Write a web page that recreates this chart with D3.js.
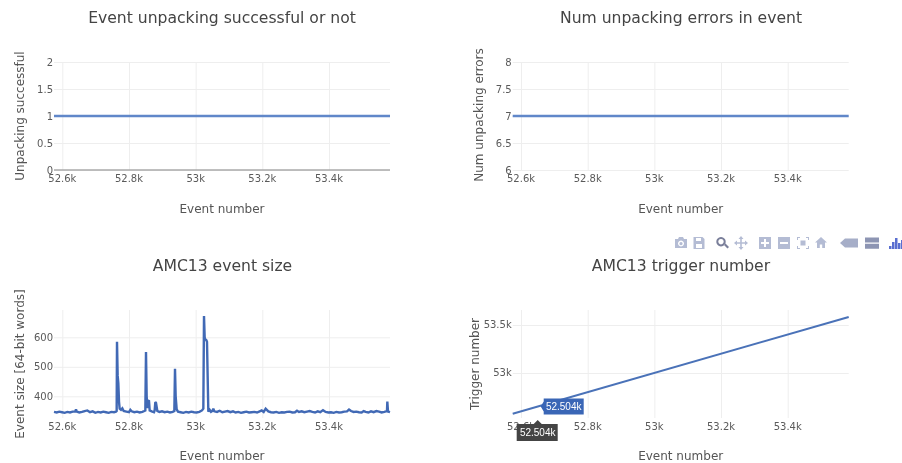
<!DOCTYPE html>
<html>
<head>
<meta charset="utf-8">
<script src="https://cdn.jsdelivr.net/npm/d3@7"></script>
<style>
  html, body { margin: 0; padding: 0; background: #fff; }
  svg { display: block; font-family: "DejaVu Sans", sans-serif; filter: blur(0.35px); }
  .tick-label { font-size: 10px; fill: #5a5a5a; }
  .axis-title { font-size: 12px; fill: #555; }
  .chart-title { font-size: 15.6px; fill: #444; }
  .grid line { stroke: #eee; stroke-width: 1; }
  .grid path { display: none; }
  .trace { fill: none; stroke-linejoin: miter; stroke-miterlimit: 2; }
  .hover-text { font-family: "Liberation Sans", sans-serif; font-size: 10px; fill: #fff; }
</style>
</head>
<body>
<svg id="chart" width="902" height="463"></svg>
<script>
(function() {
  var rangeEvents = [52575, 53583];
  var unpackingOk = [1, 1];
  var unpackingErrors = [7, 7];
  var triggerNumbers = [52575, 53583];

  var xTicks = [52600, 52800, 53000, 53200, 53400];
  var xTickLabels = ['52.6k', '52.8k', '53k', '53.2k', '53.4k'];

  var sizeEvents = [
    52575, 52583, 52591, 52599, 52607, 52615, 52623, 52631, 52639, 52641, 52643, 52651, 52659, 52667, 52675,
    52683, 52691, 52699, 52707, 52715, 52723, 52731, 52739, 52747, 52755, 52761, 52763, 52764, 52766, 52768,
    52770, 52772, 52776, 52780, 52784, 52792, 52800, 52804, 52808, 52816, 52824, 52832, 52840, 52846, 52849,
    52851, 52853, 52855, 52858, 52860, 52862, 52868, 52875, 52877, 52879, 52881, 52885, 52891, 52899, 52907,
    52915, 52923, 52931, 52936, 52938, 52940, 52943, 52947, 52955, 52963, 52971, 52979, 52987, 52995, 53003,
    53011, 53019, 53023, 53025, 53027, 53029, 53030, 53032, 53034, 53038, 53042, 53046, 53050, 53053, 53056,
    53064, 53072, 53080, 53088, 53096, 53104, 53112, 53120, 53128, 53136, 53144, 53152, 53160, 53168, 53176,
    53184, 53192, 53198, 53204, 53210, 53218, 53226, 53234, 53242, 53250, 53258, 53266, 53274, 53282, 53290,
    53298, 53304, 53310, 53318, 53326, 53334, 53342, 53350, 53358, 53366, 53374, 53382, 53390, 53398, 53406,
    53414, 53422, 53430, 53438, 53446, 53454, 53460, 53466, 53474, 53482, 53490, 53498, 53504, 53510, 53518,
    53526, 53534, 53542, 53550, 53558, 53566, 53572, 53574, 53575, 53577, 53583
  ];
  var eventSizes = [
    347, 345, 348, 346, 344, 347, 345, 348, 349, 356, 348, 345, 347, 350, 352,
    346, 349, 344, 347, 345, 348, 346, 344, 347, 346, 348, 350, 585, 470, 445,
    382, 358, 354, 359, 350, 348, 346, 354, 349, 346, 348, 345, 347, 350, 352,
    550, 400, 360, 385, 384, 352, 349, 346, 352, 380, 378, 350, 347, 349, 346,
    348, 345, 347, 350, 493, 400, 356, 348, 346, 344, 347, 345, 348, 346, 345,
    347, 352, 358, 672, 600, 590, 593, 590, 585, 348, 354, 347, 350, 358, 349,
    347, 351, 346, 348, 350, 346, 349, 345, 347, 344, 346, 348, 345, 346, 347,
    345, 349, 352, 347, 358, 349, 346, 345, 347, 344, 346, 345, 347, 348, 345,
    346, 351, 347, 349, 346, 348, 350, 347, 345, 349, 346, 353, 347, 345, 346,
    344, 347, 345, 346, 348, 349, 355, 350, 347, 348, 346, 345, 350, 347, 345,
    349, 346, 350, 348, 345, 347, 349, 352, 382, 348, 346
  ];

  var svg = d3.select('#chart');

  var addPanel = function(opts) {
    var g, x, y, line;
    x = d3.scaleLinear().domain(rangeEvents).range([opts.left, opts.left + 336]);
    y = d3.scaleLinear().domain(opts.yDomain).range([opts.bottom, opts.top]);
    g = svg.append('g');

    // gridlines come from the axes, labels are added by hand because plotly puts them further out
    g.append('g').attr('class', 'grid').attr('transform', 'translate(0,' + opts.bottom + ')')
      .call(d3.axisBottom(x).tickValues(xTicks).tickSize(opts.top - opts.bottom).tickFormat(''));
    g.append('g').attr('class', 'grid').attr('transform', 'translate(' + opts.left + ',0)')
      .call(d3.axisRight(y).tickValues(opts.yTicks).tickSize(336).tickFormat(''));

    if (opts.zeroLine) {
      g.append('line').attr('x1', opts.left).attr('x2', opts.left + 336)
        .attr('y1', y(0)).attr('y2', y(0)).attr('stroke', '#aaa').attr('stroke-width', 1.5);
    }

    line = d3.line().x(function(d) { return x(d[0]); }).y(function(d) { return y(d[1]); });
    g.append('path').attr('class', 'trace').attr('d', line(d3.zip(opts.xs, opts.ys)))
      .attr('stroke', opts.color).attr('stroke-width', opts.lineWidth);

    g.selectAll('.x-label').data(xTicks).enter().append('text').attr('class', 'tick-label')
      .attr('x', function(d) { return x(d); }).attr('y', opts.bottom + opts.xLabelGap)
      .attr('text-anchor', 'middle').text(function(d, i) { return xTickLabels[i]; });
    g.selectAll('.y-label').data(opts.yTicks).enter().append('text').attr('class', 'tick-label')
      .attr('x', opts.left - 1).attr('y', function(d) { return y(d) + 3.5; })
      .attr('text-anchor', 'end').text(function(d, i) { return opts.yLabels[i]; });

    g.append('text').attr('class', 'chart-title').attr('x', opts.titleX).attr('y', opts.titleY)
      .attr('text-anchor', 'middle').text(opts.title);
    g.append('text').attr('class', 'axis-title').attr('x', opts.left + 168).attr('y', opts.xTitleY)
      .attr('text-anchor', 'middle').text('Event number');
    g.append('text').attr('class', 'axis-title').attr('text-anchor', 'middle')
      .attr('transform', 'translate(' + opts.yTitleX + ',' + opts.yTitleY + ') rotate(-90)').text(opts.yTitle);

    return { x: x, y: y };
  };

  addPanel({
    left: 54, top: 62, bottom: 170, xLabelGap: 12, yDomain: [0, 2],
    yTicks: [0, 0.5, 1, 1.5, 2], yLabels: ['0', '0.5', '1', '1.5', '2'], zeroLine: true,
    xs: rangeEvents, ys: unpackingOk, color: '#6087c9', lineWidth: 2.4,
    title: 'Event unpacking successful or not', titleX: 222, titleY: 23, xTitleY: 213,
    yTitle: 'Unpacking successful', yTitleX: 24, yTitleY: 116
  });

  addPanel({
    left: 512.7, top: 62, bottom: 170, xLabelGap: 12, yDomain: [6, 8],
    yTicks: [6, 6.5, 7, 7.5, 8], yLabels: ['6', '6.5', '7', '7.5', '8'],
    xs: rangeEvents, ys: unpackingErrors, color: '#6087c9', lineWidth: 2.4,
    title: 'Num unpacking errors in event', titleX: 681, titleY: 23, xTitleY: 213,
    yTitle: 'Num unpacking errors', yTitleX: 483, yTitleY: 115
  });

  addPanel({
    left: 54, top: 310, bottom: 418, xLabelGap: 12, yDomain: [326.4, 692.5],
    yTicks: [400, 500, 600], yLabels: ['400', '500', '600'],
    xs: sizeEvents, ys: eventSizes, color: '#4169b5', lineWidth: 2.4,
    title: 'AMC13 event size', titleX: 222.5, titleY: 271, xTitleY: 460,
    yTitle: 'Event size [64-bit words]', yTitleX: 24, yTitleY: 364
  });

  var trigger = addPanel({
    left: 512.7, top: 310, bottom: 418, xLabelGap: 12, yDomain: [52531, 53656],
    yTicks: [53000, 53500], yLabels: ['53k', '53.5k'],
    xs: rangeEvents, ys: triggerNumbers, color: '#4a72b8', lineWidth: 2,
    title: 'AMC13 trigger number', titleX: 681, titleY: 271, xTitleY: 460,
    yTitle: 'Trigger number', yTitleX: 479, yTitleY: 364
  });

  // hover labels on the trigger panel
  var hoverEvent = 52650, hoverLabel = '52.504k';
  var hx = trigger.x(hoverEvent), hy = trigger.y(hoverEvent);
  var hover = svg.append('g');
  hover.append('path').attr('fill', '#3a66b6')
    .attr('d', 'M' + (hx + 3) + ',' + hy + 'l3,-5v-3h40v16h-40v-3z');
  hover.append('text').attr('class', 'hover-text').attr('x', hx + 26).attr('y', hy + 3.5)
    .attr('text-anchor', 'middle').text(hoverLabel);
  hover.append('path').attr('fill', '#444')
    .attr('d', 'M' + hx + ',420l4,4h16v17h-41v-17h17z');
  hover.append('text').attr('class', 'hover-text').attr('x', hx).attr('y', 436)
    .attr('text-anchor', 'middle').text(hoverLabel);

  // plotly modebar
  var modeColor = '#b4bcd4', modeDark = '#7a7f9a';
  var bar = svg.append('g').attr('transform', 'translate(0,243)');
  var icon = function(px, d, fill) {
    return bar.append('path').attr('transform', 'translate(' + px + ',0)').attr('d', d).attr('fill', fill || modeColor).attr('fill-rule', 'evenodd');
  };
  icon(681, 'M-6,-4h3l1,-2h4l1,2h3v9h-12zM0,-2.5a3,3 0 1,0 0.01,0zM0,-1a1.6,1.6 0 1,1 -0.01,0z');
  icon(699, 'M-5.5,-6h9l2,2v10h-11zM-3,-5v3h5v-3zM-3,1v4h6v-4z');
  icon(722, 'M-1,-6a4.7,4.7 0 1,0 0.01,0zM-1,-4a2.7,2.7 0 1,1 -0.01,0zM2,2l1.5,-1.5l3.5,3.5l-1.5,1.5z', modeDark);
  icon(741, 'M0,-7l2.5,3h-1.7v3.2h3.2v-1.7l3,2.5l-3,2.5v-1.7h-3.2v3.2h1.7l-2.5,3l-2.5,-3h1.7v-3.2h-3.2v1.7l-3,-2.5l3,-2.5v1.7h3.2v-3.2h-1.7z');
  icon(765, 'M-6,-6h12v12h-12zM-1,-4v3h-3v2h3v3h2v-3h3v-2h-3v-3z');
  icon(784, 'M-6,-6h12v12h-12zM-4,-1v2h8v-2z');
  icon(803, 'M-6,-6h3v1h-2v2h-1zM3,-6h3v3h-1v-2h-2zM-6,3h1v2h2v1h-3zM5,3h1v3h-3v-1h2zM-2.5,-2.5h5v5h-5z');
  icon(821, 'M0,-6l6,5.5h-2v5.5h-2.8v-3.5h-2.4v3.5h-2.8v-5.5h-2z');
  icon(849, 'M-9,0l5,-4.5h13v9h-13z', '#a6aec8');
  icon(872, 'M-7,-5.5h14v5h-14zM-7,0.8h14v5h-14z', '#8d95b3');
  [[889, 3], [892, 7], [895, 11], [898, 6], [901, 9]].forEach(function(b) {
    bar.append('rect').attr('x', b[0]).attr('y', 6 - b[1]).attr('width', 2.5).attr('height', b[1]).attr('fill', '#5a6fd0');
  });
}).call(this);
</script>
</body>
</html>
